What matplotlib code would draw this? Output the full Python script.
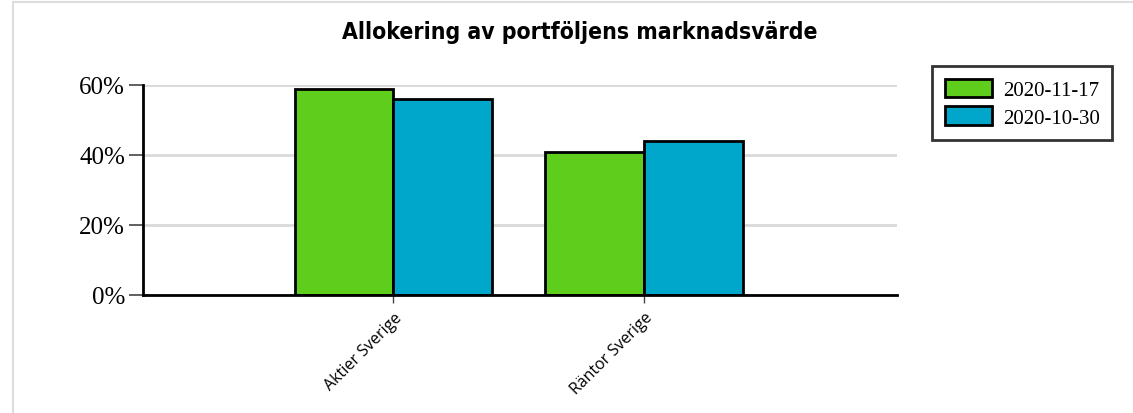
import matplotlib
matplotlib.use("Agg")
import matplotlib.pyplot as plt
from matplotlib.lines import Line2D
from matplotlib.patches import Patch
import numpy as np

categories = ["Aktier Sverige", "Räntor Sverige"]
series_names = ["2020-11-17", "2020-10-30"]
values_1117 = [58.8, 41.0]
values_1030 = [56.0, 44.0]
yticks = [0, 20, 40, 60]
ytick_labels = ["0%", "20%", "40%", "60%"]
colors = ["#5fcd1c", "#00a7cb"]

W, H = 1133, 414
fig = plt.figure(figsize=(W / 100, H / 100), dpi=100)

def px(x0, y0, x1, y1):
    return [x0 / W, 1 - y1 / H, (x1 - x0) / W, (y1 - y0) / H]

ax = fig.add_axes(px(143, 86, 897, 296))
x = np.arange(len(categories))
w = 0.395
ax.bar(x - w / 2, values_1117, width=w, color=colors[0], edgecolor="black", linewidth=2, zorder=3)
ax.bar(x + w / 2, values_1030, width=w, color=colors[1], edgecolor="black", linewidth=2, zorder=3)

ax.set_xlim(-1.0, 2.01)
ax.set_ylim(0, 60)
ax.set_yticks(yticks)
ax.set_yticklabels(ytick_labels, fontfamily="Liberation Serif", fontsize=18)
ax.yaxis.grid(True, color="#d9d9d9", linewidth=2, zorder=0)
ax.set_axisbelow(True)
ax.tick_params(axis="y", length=10, width=1.2, color="#444444", pad=3)
ax.set_xticks(x)
ax.set_xticklabels(categories, rotation=45, ha="right", rotation_mode="anchor",
                   fontfamily="Open Sans", fontsize=11.5)
ax.tick_params(axis="x", length=6, width=1, color="#444444", pad=4)
for s in ["top", "right"]:
    ax.spines[s].set_visible(False)
ax.spines["left"].set_linewidth(2)
ax.spines["bottom"].set_linewidth(2)
ax.spines["left"].set_zorder(4)
ax.spines["bottom"].set_zorder(4)

fig.text(580 / W, 1 - 32 / H, "Allokering av portföljens marknadsvärde",
         ha="center", va="center", fontsize=16.5, fontweight="bold", fontstretch="condensed",
         fontfamily=["DejaVu Sans"])

handles = [Patch(facecolor=colors[i], edgecolor="black", linewidth=2, label=series_names[i])
           for i in range(2)]
leg = fig.legend(handles=handles, loc="upper left", bbox_to_anchor=(932 / W, 1 - 67 / H),
                 frameon=True, fancybox=False, edgecolor="black",
                 prop={"family": "Liberation Serif", "size": 15},
                 handlelength=2.3, handleheight=1.0, borderpad=0.6, labelspacing=0.3,
                 handletextpad=0.5, borderaxespad=0)
leg.get_frame().set_linewidth(2)

# outer light border
fig.add_artist(Line2D([13 / W, 13 / W], [0, 1 - 3 / H], color="#dddddd", linewidth=1.5))
fig.add_artist(Line2D([13 / W, 1], [1 - 3 / H, 1 - 3 / H], color="#dddddd", linewidth=1.5))

fig.savefig("out.png", dpi=100)
